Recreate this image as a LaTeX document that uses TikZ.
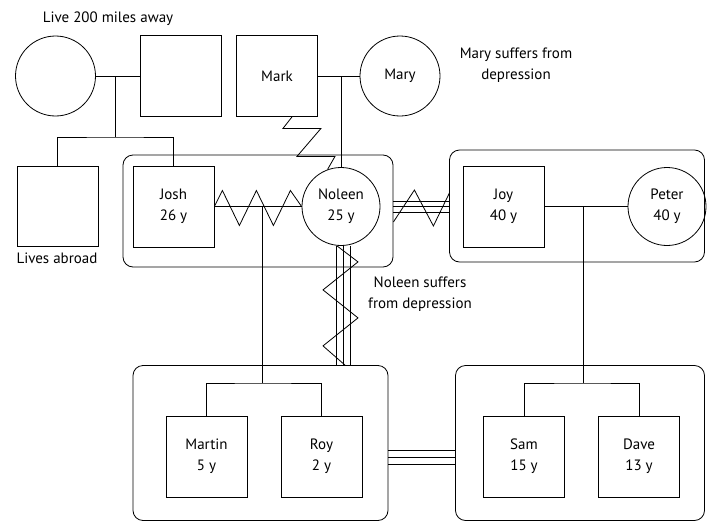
\documentclass[tikz,border=0pt]{standalone}
\usepackage{fontspec}
\setmainfont{PT Sans}
\usetikzlibrary{calc}
\begin{document}
\begin{tikzpicture}[x=1pt,y=-1pt,line width=0.8pt,
  every node/.style={font=\fontsize{15}{21}\selectfont},
  male/.style={draw,rectangle,inner sep=0pt,minimum width=81pt,minimum height=81pt,align=center},
  female/.style={draw,circle,inner sep=0pt,minimum size=#1,align=center},
  female/.default=78pt,
  household/.style={draw,rounded corners=10pt,inner sep=0pt},
  note/.style={align=center}]
\useasboundingbox (0,0) rectangle (707,522);
% households
\node[household,minimum width=270pt,minimum height=112pt] (hhjosh) at (258,211) {};
\node[household,minimum width=255pt,minimum height=112pt] (hhjoy) at (577,206) {};
\node[household,minimum width=255pt,minimum height=155pt] (hhkidsA) at (260.5,443) {};
\node[household,minimum width=249pt,minimum height=155pt] (hhkidsB) at (580,443) {};
% grandparents
\node[female=80pt] (gmjosh) at (55.5,76) {};
\node[male] (gfjosh) at (180.5,76) {};
\node[male] (mark) at (277,76) {Mark};
\node[female=80pt] (mary) at (400,76) {Mary};
% parents
\node[male,minimum height=80pt] (abroad) at (57.5,206) {};
\node[male] (josh) at (173.5,206.5) {Josh\\26 y};
\node[female] (noleen) at (341,206.5) {Noleen\\25 y};
\node[male] (joy) at (503.5,206.5) {Joy\\40 y};
\node[female] (peter) at (667,206.5) {Peter\\40 y};
% children
\node[male] (martin) at (206.5,456.5) {Martin\\5 y};
\node[male] (roy) at (321.5,456.5) {Roy\\2 y};
\node[male] (sam) at (524,456.5) {Sam\\15 y};
\node[male] (dave) at (639,456.5) {Dave\\13 y};
% notes
\node (livesaway) at (108,19) {Live 200 miles away};
\node (livesabroad) at (57,258) {Lives abroad};
\node[note] (marynote) at (516,65) {Mary suffers from\\depression};
\node[note] (noleennote) at (420,294) {Noleen suffers\\from depression};
% marriages
\draw (gmjosh) -- (gfjosh);
\draw (mark) -- (mary);
\draw (josh) -- (noleen);
\draw (joy) -- (peter);
% descent lines
\coordinate (mjosh) at (115,76);
\coordinate (sibjosh) at (115,137);
\draw (mjosh) -- (sibjosh);
\draw (abroad.north) |- (sibjosh) -| (josh.north);
\draw (noleen.north) -- (noleen.north |- mark.east);
\coordinate (mnoleen) at (262,206.5);
\coordinate (sibA) at (262,383);
\draw (mnoleen) -- (sibA);
\draw (martin.north) |- (sibA) -| (roy.north);
\coordinate (mjoy) at (583,206.5);
\coordinate (sibB) at (583,383);
\draw (mjoy) -- (sibB);
\draw (sam.north) |- (sibB) -| (dave.north);
% conflict
\draw (josh.east) -- ++(8,-16) -- ++(17,35) -- ++(17,-35) -- ++(17,35)
  -- ++(17,-35) -- (noleen.west);
\draw ([xshift=15pt]mark.south) -- ++(-9,11.5) -- ++(38,0) -- ++(-24,28)
  -- ++(38,0) -- (noleen.110);
% close ties
\coordinate (cnj) at (hhjosh.east |- noleen.east);
\foreach \d in {-5.5,0,5.5}
  \draw ($(cnj)+(0,\d)$) -- ($(cnj -| hhjoy.west)+(0,\d)$);
\draw ($(cnj)+(0,15.5)$) -- ++(21,-32) -- ++(19,36) -- ++(16,-33);
\coordinate (cnk) at (noleen.south |- hhkidsA.north);
\foreach \d in {-5,2,9}
  \draw ($(noleen.south)+(\d,0)$) -- ($(cnk)+(\d,0)$);
\draw ($(noleen.south)+(-4,0)$) -- ++(21,16) -- ++(-35,28) -- ++(35,28)
  -- ++(-35,28) -- ($(cnk)+(4,0)$);
\coordinate (ckk) at (hhkidsA.east);
\foreach \d in {7,14,21}
  \draw ($(ckk)+(0,\d)$) -- ($(ckk -| hhkidsB.west)+(0,\d)$);
\end{tikzpicture}
\end{document}
